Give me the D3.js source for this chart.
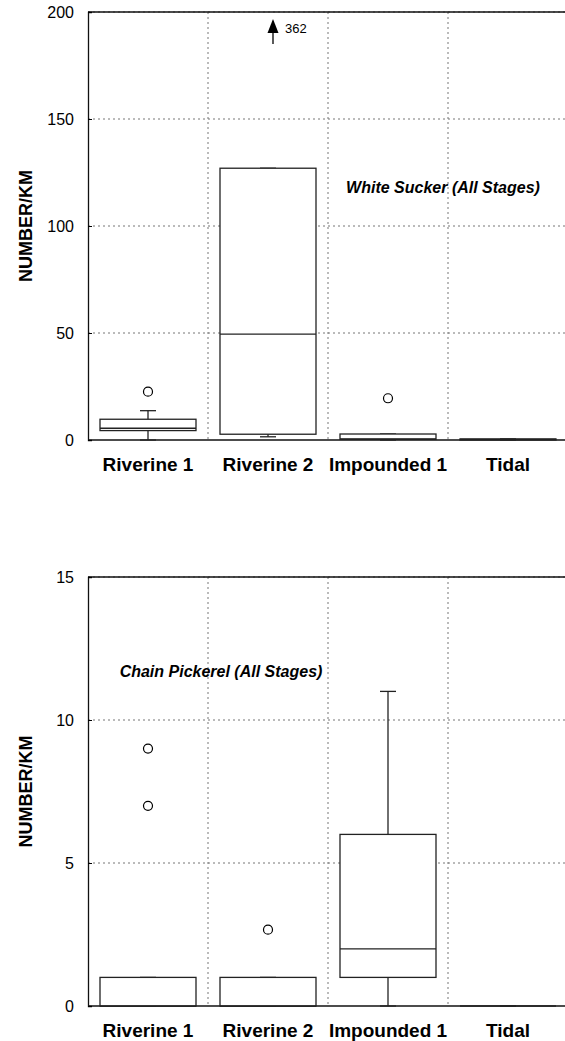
<!DOCTYPE html>
<html>
<head>
<meta charset="utf-8">
<script src="https://cdn.jsdelivr.net/npm/d3@7"></script>
<style>
  body { margin: 0; background: #fff; }
  svg { display: block; font-family: "Liberation Sans", Arial, sans-serif; }
  .grid line { stroke: #777; stroke-dasharray: 2,3; stroke-width: 1; }
  .box { fill: #fff; stroke: #222; stroke-width: 1.3; }
  .wh { stroke: #222; stroke-width: 1.3; }
  .out { fill: #fff; stroke: #000; stroke-width: 1.2; }
</style>
</head>
<body>
<svg width="565" height="1041"></svg>
<script>
'use strict';

var categories = ['Riverine 1', 'Riverine 2', 'Impounded 1', 'Tidal'];

// White Sucker: whisker low, q1, median, q3, whisker high
var suckerLow = [0, 1.5, 0, 0];
var suckerQ1 = [4.4, 2.7, 0.3, 0];
var suckerMedian = [5.5, 49.5, 0.5, 0.3];
var suckerQ3 = [9.7, 127, 2.8, 0.5];
var suckerHigh = [13.7, 127, 2.8, 0.5];
var suckerOutliers = [[22.6], [], [19.5], []];
var suckerTicks = [0, 50, 100, 150, 200];
var suckerOffScale = {category: 'Riverine 2', value: 362};

// Chain Pickerel
var pickerelLow = [0, 0, 0, 0];
var pickerelQ1 = [0, 0, 1, 0];
var pickerelMedian = [0, 0, 2, 0];
var pickerelQ3 = [1, 1, 6, 0];
var pickerelHigh = [1, 1, 11, 0];
var pickerelOutliers = [[7, 9], [2.67], [], []];
var pickerelTicks = [0, 5, 10, 15];

var svg = d3.select('svg');

function rows(low, q1, med, q3, high, outs) {
  return categories.map(function(c, i) {
    return {cat: c, low: low[i], q1: q1[i], med: med[i], q3: q3[i], high: high[i], outs: outs[i]};
  });
}

function drawPanel(opt) {
  var x = d3.scaleBand().domain(categories).range([88, 568]);
  var y = d3.scaleLinear().domain(opt.domain).range([opt.bottom, opt.top]);
  var g = svg.append('g');
  var bw = x.bandwidth() * 0.8;
  var cap = 16;

  // grid
  var grid = g.append('g').attr('class', 'grid');
  grid.selectAll('.hg').data(opt.ticks.slice(1)).enter().append('line')
    .attr('x1', 88).attr('x2', 568)
    .attr('y1', function(d) { return y(d); }).attr('y2', function(d) { return y(d); });
  grid.selectAll('.vg').data(categories.slice(1)).enter().append('line')
    .attr('x1', function(d) { return x(d); }).attr('x2', function(d) { return x(d); })
    .attr('y1', opt.top).attr('y2', opt.bottom);

  // frame
  g.append('line').attr('x1', 88).attr('x2', 568).attr('y1', opt.top).attr('y2', opt.top)
    .attr('stroke', '#111').attr('stroke-width', 1.3);
  g.append('line').attr('x1', 88).attr('x2', 568).attr('y1', opt.bottom).attr('y2', opt.bottom)
    .attr('stroke', '#111').attr('stroke-width', 1.3);

  var yAxis = g.append('g').attr('transform', 'translate(88,0)')
    .call(d3.axisLeft(y).tickValues(opt.ticks).tickSize(-4).tickPadding(14));
  yAxis.select('.domain').attr('stroke', '#111').attr('stroke-width', 1.3);
  yAxis.selectAll('text').style('font-size', '16px').attr('fill', '#000');

  var xAxis = g.append('g').attr('transform', 'translate(0,' + opt.bottom + ')')
    .call(d3.axisBottom(x).tickSize(0).tickPadding(18));
  xAxis.select('.domain').remove();
  xAxis.selectAll('text').style('font-size', '19px').style('font-weight', 'bold').attr('fill', '#000');

  // y title
  g.append('text')
    .attr('transform', 'translate(32,' + ((opt.top + opt.bottom) / 2) + ') rotate(-90)')
    .attr('text-anchor', 'middle')
    .style('font-size', '18px').style('font-weight', 'bold')
    .text('NUMBER/KM');

  // boxes
  var b = g.selectAll('.bx').data(opt.data).enter().append('g');
  b.append('line').attr('class', 'wh')
    .attr('x1', function(d) { return x(d.cat) + x.bandwidth() / 2; })
    .attr('x2', function(d) { return x(d.cat) + x.bandwidth() / 2; })
    .attr('y1', function(d) { return y(d.low); }).attr('y2', function(d) { return y(d.high); });
  b.append('line').attr('class', 'wh')
    .attr('x1', function(d) { return x(d.cat) + x.bandwidth() / 2 - cap / 2; })
    .attr('x2', function(d) { return x(d.cat) + x.bandwidth() / 2 + cap / 2; })
    .attr('y1', function(d) { return y(d.high); }).attr('y2', function(d) { return y(d.high); });
  b.append('line').attr('class', 'wh')
    .attr('x1', function(d) { return x(d.cat) + x.bandwidth() / 2 - cap / 2; })
    .attr('x2', function(d) { return x(d.cat) + x.bandwidth() / 2 + cap / 2; })
    .attr('y1', function(d) { return y(d.low); }).attr('y2', function(d) { return y(d.low); });
  b.append('rect').attr('class', 'box')
    .attr('x', function(d) { return x(d.cat) + (x.bandwidth() - bw) / 2; })
    .attr('width', bw)
    .attr('y', function(d) { return y(d.q3); })
    .attr('height', function(d) { return y(d.q1) - y(d.q3); });
  b.append('line').attr('class', 'wh')
    .attr('x1', function(d) { return x(d.cat) + (x.bandwidth() - bw) / 2; })
    .attr('x2', function(d) { return x(d.cat) + (x.bandwidth() + bw) / 2; })
    .attr('y1', function(d) { return y(d.med); }).attr('y2', function(d) { return y(d.med); });
  b.selectAll('circle').data(function(d) {
      return d.outs.map(function(v) { return {cat: d.cat, v: v}; });
    }).enter().append('circle').attr('class', 'out')
    .attr('cx', function(d) { return x(d.cat) + x.bandwidth() / 2; })
    .attr('cy', function(d) { return y(d.v); })
    .attr('r', 4.5);

  // species label
  g.append('text')
    .attr('x', opt.labelX).attr('y', y(opt.labelY))
    .attr('text-anchor', 'middle')
    .style('font-size', '16px').style('font-weight', 'bold').style('font-style', 'italic')
    .text(opt.label);

  return {x: x, y: y, g: g};
}

var suckerPanel = drawPanel({
  top: 12, bottom: 440, domain: [0, 200], ticks: suckerTicks,
  data: rows(suckerLow, suckerQ1, suckerMedian, suckerQ3, suckerHigh, suckerOutliers),
  label: 'White Sucker (All Stages)', labelX: 443, labelY: 115.5
});

// off-scale arrow for the value above the axis top
var ax = suckerPanel.x(suckerOffScale.category) + suckerPanel.x.bandwidth() / 2 + 5;
var ay = suckerPanel.y(200);
suckerPanel.g.append('line').attr('x1', ax).attr('x2', ax).attr('y1', ay + 32).attr('y2', ay + 18)
  .attr('stroke', '#000').attr('stroke-width', 1.3);
suckerPanel.g.append('path')
  .attr('d', 'M' + (ax - 5.5) + ',' + (ay + 21) + 'L' + ax + ',' + (ay + 7) + 'L' + (ax + 5.5) + ',' + (ay + 21) + 'Z')
  .attr('fill', '#000');
suckerPanel.g.append('text').attr('x', ax + 12).attr('y', ay + 21)
  .style('font-size', '13px').text(suckerOffScale.value);

drawPanel({
  top: 577, bottom: 1006, domain: [0, 15], ticks: pickerelTicks,
  data: rows(pickerelLow, pickerelQ1, pickerelMedian, pickerelQ3, pickerelHigh, pickerelOutliers),
  label: 'Chain Pickerel (All Stages)', labelX: 221, labelY: 11.5
});
</script>
</body>
</html>
